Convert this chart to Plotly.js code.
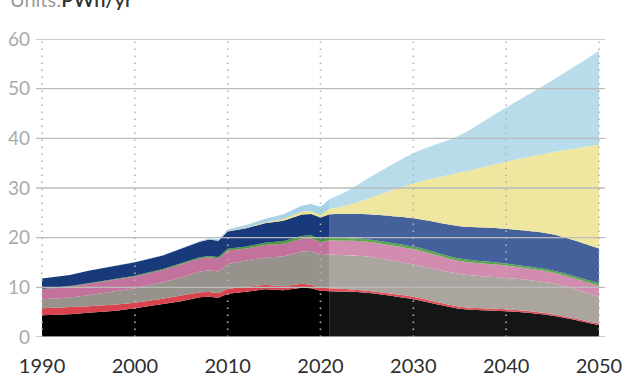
<!DOCTYPE html>
<html>
<head>
<meta charset="utf-8">
<script src="https://cdn.plot.ly/plotly-3.0.1.min.js"></script>
<style>
html,body{margin:0;padding:0;background:#fff;}
#chart{width:627px;height:376px;}
</style>
</head>
<body>
<div id="chart"></div>
<script>
// ---- Data (PWh/yr) ----
const seriesNames = ['Coal','Oil','Natural gas','Nuclear','Bioenergy','Hydropower','Solar','Wind'];

// Historical
const histYears = [1990,1993,1995,1998,2000,2003,2005,2007,2008,2009,2010,2012,2014,2016,2018,2019,2020,2021];
const histCoal    = [4.4,4.6,4.9,5.3,5.8,6.6,7.2,8.0,8.1,7.9,8.7,9.1,9.6,9.4,9.9,9.8,9.3,9.2];
const histOil     = [1.4,1.35,1.3,1.25,1.1,1.1,1.1,1.0,0.95,0.9,1.0,1.0,0.9,0.8,0.8,0.7,0.6,0.6];
const histGas     = [1.8,2.0,2.2,2.6,2.9,3.3,3.7,4.2,4.4,4.4,5.0,5.3,5.5,6.0,6.5,6.8,6.6,6.8];
const histNuclear = [2.0,2.2,2.3,2.4,2.4,2.5,2.6,2.6,2.6,2.6,2.7,2.4,2.5,2.6,2.6,2.6,2.6,2.9];
const histBio     = [0.1,0.11,0.12,0.14,0.15,0.2,0.22,0.26,0.28,0.3,0.36,0.42,0.48,0.52,0.55,0.57,0.55,0.6];
const histHydro   = [2.1,2.2,2.5,2.6,2.7,2.7,3.0,3.1,3.3,3.3,3.5,3.7,3.9,4.1,4.3,4.3,4.4,4.6];
const histSolar   = [0,0,0,0,0,0,0,0.005,0.01,0.02,0.03,0.1,0.19,0.33,0.56,0.6,0.45,1.1];
const histWind    = [0,0.005,0.01,0.02,0.03,0.06,0.1,0.17,0.22,0.27,0.34,0.52,0.7,0.95,1.25,1.4,1.7,2.0];

// Forecast
const fcYears   = [2021,2023,2025,2030,2035,2040,2045,2050];
const fcCoal    = [9.2,9.1,8.9,7.6,5.7,5.2,4.3,2.4];
const fcOil     = [0.6,0.5,0.4,0.5,0.4,0.4,0.3,0.3];
const fcGas     = [6.8,6.8,6.9,6.5,6.6,6.3,6.2,5.4];
const fcNuclear = [2.9,3.0,3.0,3.1,2.6,2.5,2.2,2.2];
const fcBio     = [0.6,0.5,0.5,0.5,0.5,0.4,0.4,0.5];
const fcHydro   = [4.6,4.9,5.0,5.7,6.5,7.0,7.3,7.0];
const fcSolar   = [1.1,1.8,3.1,7.0,10.8,13.5,16.5,20.9];
const fcWind    = [2.0,2.9,4.0,6.1,7.5,10.9,14.5,18.9];

const xTicks = [1990,2000,2010,2020,2030,2040,2050];
const yTicks = [0,10,20,30,40,50,60];

// ---- Styles ----
const histColors = ['#000000','#d8434e','#97928b','#c2729c','#4c983e','#183a7a','#eee28c','#a8d3e6'];
const fcColors   = ['#141618','#e0525b','#aaa59e','#d28cb0','#5aa84c','#44619b','#efe79f','#b8dcea'];

const histData = [histCoal,histOil,histGas,histNuclear,histBio,histHydro,histSolar,histWind];
const fcData   = [fcCoal,fcOil,fcGas,fcNuclear,fcBio,fcHydro,fcSolar,fcWind];

const traces = [];
histData.forEach((vals,i)=>{
  traces.push({x:histYears,y:vals,type:'scatter',mode:'lines',stackgroup:'hist',
    name:seriesNames[i],line:{width:0,color:histColors[i]},fillcolor:histColors[i],hoverinfo:'skip',showlegend:false});
});
fcData.forEach((vals,i)=>{
  traces.push({x:fcYears,y:vals,type:'scatter',mode:'lines',stackgroup:'fc',
    name:seriesNames[i],line:{width:0,color:fcColors[i],shape:'spline',smoothing:0.8},fillcolor:fcColors[i],hoverinfo:'skip',showlegend:false});
});

const shapes = [];
yTicks.forEach(v=>{
  shapes.push({type:'line',xref:'paper',yref:'y',x0:0,x1:1,y0:v,y1:v,layer:'above',
    line:{color:'#bbbbbb',width:1.3}});
});
xTicks.forEach(v=>{
  shapes.push({type:'line',xref:'x',yref:'y',x0:v,x1:v,y0:0,y1:60,layer:'above',
    line:{color:'#b4b4b4',width:1.6,dash:'1.6px,5.4px'}});
});

const layout = {
  width:627,height:376,
  margin:{l:36,r:22,t:39,b:39},
  paper_bgcolor:'#ffffff',plot_bgcolor:'#ffffff',
  font:{family:'Lato, "Open Sans", sans-serif'},
  xaxis:{range:[1989.35,2050.65],tickvals:xTicks,ticktext:xTicks.map(String),
    showgrid:false,zeroline:false,showline:false,ticks:'',ticklabelstandoff:15,
    tickfont:{size:20,color:'#2e2e2e'},fixedrange:true},
  yaxis:{range:[0,60],tickvals:yTicks,ticktext:yTicks.map(String),
    showgrid:false,zeroline:false,showline:false,ticks:'',ticklabelstandoff:5,
    tickfont:{size:19,color:'#aaaaaa'},fixedrange:true},
  shapes:shapes,
  annotations:[{xref:'paper',yref:'paper',x:-0.049,y:1.087,xanchor:'left',yanchor:'bottom',
    showarrow:false,align:'left',
    text:'<span style="color:#9a9a9a">Units:</span><span style="color:#333333;font-weight:600">PWh/yr</span>',
    font:{size:20,family:'Lato, sans-serif'}}],
  showlegend:false
};

Plotly.newPlot('chart',traces,layout,{staticPlot:true,displayModeBar:false});
</script>
</body>
</html>
